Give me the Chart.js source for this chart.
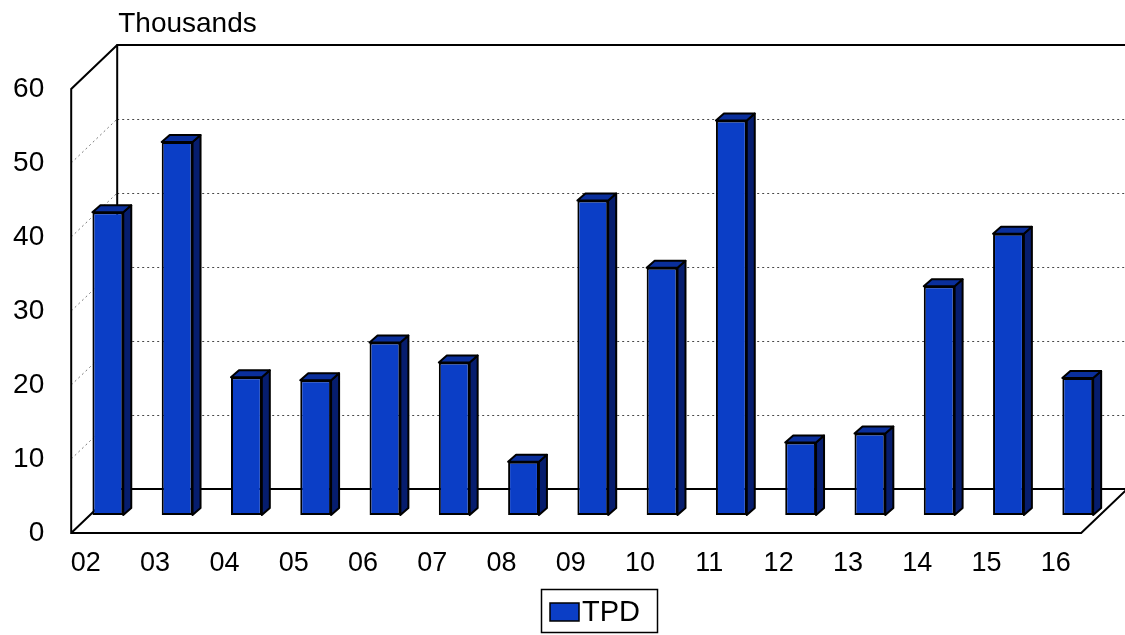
<!DOCTYPE html>
<html>
<head>
<meta charset="utf-8">
<script src="https://cdn.jsdelivr.net/npm/chart.js@4.4.1/dist/chart.umd.min.js"></script>
<style>
  html, body { margin: 0; padding: 0; background: #ffffff; }
  #wrap { width: 1125px; height: 635px; position: relative; }
</style>
</head>
<body>
<div id="wrap"><canvas id="chart" width="1125" height="635"></canvas></div>
<script>
// Annual TPD figures (thousands), years 2002-2016
const years = ['02', '03', '04', '05', '06', '07', '08', '09', '10', '11', '12', '13', '14', '15', '16'];
const tpd = [40.9, 50.4, 18.6, 18.2, 23.3, 20.6, 7.2, 42.5, 33.4, 53.3, 9.8, 11.0, 30.9, 38.0, 18.5];
const yTicks = [0, 10, 20, 30, 40, 50, 60];
const seriesName = 'TPD';
const unitLabel = 'Thousands';

const FRONT_FACE = '#0b3ec6';
const SIDE_FACE = '#061d6e';
const TOP_FACE = '#0a2f9c';
const FONT = '"Liberation Sans", Arial, sans-serif';

// Oblique projection of the plot box: bars stand at a plane between the
// front edge of the floor and the back wall.
const DEPTH_TO_FRONT = { dx: -19, dy: 18 };   // bar plane -> front plane
const DEPTH_TO_BACK = { dx: 27, dy: -26 };    // bar plane -> back wall
const BAR_DEPTH = { dx: 8, dy: -7 };          // thickness of each column
const FLOOR_LEFT_INSET = 2;                   // front-left corner vs. chart area
const FLOOR_LENGTH = 1010;

const boxPlugin = {
  id: 'box3d',
  beforeDatasetsDraw(chart) {
    const ctx = chart.ctx;
    const ys = chart.scales.y;
    const ca = chart.chartArea;
    const top = yTicks[yTicks.length - 1];
    const fx = ca.left - FLOOR_LEFT_INSET;
    const bx = fx + (DEPTH_TO_BACK.dx - DEPTH_TO_FRONT.dx);
    const fy = v => ys.getPixelForValue(v) + DEPTH_TO_FRONT.dy;
    const by = v => ys.getPixelForValue(v) + DEPTH_TO_BACK.dy;

    ctx.save();
    // dotted gridlines on the back wall and the left wall
    ctx.lineWidth = 1;
    ctx.setLineDash([2, 3]);
    yTicks.forEach(v => {
      if (v === 0 || v === top) return;
      ctx.strokeStyle = '#4a4a4a';
      ctx.beginPath();
      ctx.moveTo(bx, by(v) + 0.5);
      ctx.lineTo(bx + FLOOR_LENGTH, by(v) + 0.5);
      ctx.stroke();
      ctx.strokeStyle = '#7a7a7a';
      ctx.beginPath();
      ctx.moveTo(fx, fy(v));
      ctx.lineTo(bx, by(v));
      ctx.stroke();
    });
    ctx.setLineDash([]);

    // solid frame: back wall, left wall edge, floor
    ctx.strokeStyle = '#000000';
    ctx.lineWidth = 2;
    ctx.lineJoin = 'miter';
    ctx.beginPath();
    // back wall top + left edge
    ctx.moveTo(bx + FLOOR_LENGTH, by(top));
    ctx.lineTo(bx, by(top));
    ctx.lineTo(bx, by(0));
    ctx.lineTo(bx + FLOOR_LENGTH, by(0));
    // left wall top and front axis
    ctx.moveTo(bx, by(top));
    ctx.lineTo(fx, fy(top));
    ctx.lineTo(fx, fy(0));
    // floor
    ctx.lineTo(fx + FLOOR_LENGTH, fy(0));
    ctx.lineTo(bx + FLOOR_LENGTH, by(0));
    ctx.moveTo(fx, fy(0));
    ctx.lineTo(bx, by(0));
    ctx.stroke();

    // unit caption above the axis
    ctx.fillStyle = '#000000';
    ctx.font = '28px ' + FONT;
    ctx.textAlign = 'left';
    ctx.textBaseline = 'alphabetic';
    ctx.fillText(unitLabel, bx + 1, 32);
    ctx.restore();
  },
  afterDatasetsDraw(chart) {
    const ctx = chart.ctx;
    const meta = chart.getDatasetMeta(0);
    const { dx, dy } = BAR_DEPTH;
    ctx.save();
    ctx.lineWidth = 2;
    ctx.strokeStyle = '#000000';
    ctx.lineJoin = 'round';
    meta.data.forEach(bar => {
      const p = bar.getProps(['x', 'y', 'base', 'width'], true);
      const l = p.x - p.width / 2, r = p.x + p.width / 2;
      const t = p.y, b = p.base;
      // side face
      ctx.fillStyle = SIDE_FACE;
      ctx.beginPath();
      ctx.moveTo(r, t);
      ctx.lineTo(r + dx, t + dy);
      ctx.lineTo(r + dx, b + dy);
      ctx.lineTo(r, b);
      ctx.closePath();
      ctx.fill();
      ctx.stroke();
      // top face
      ctx.fillStyle = TOP_FACE;
      ctx.beginPath();
      ctx.moveTo(l, t);
      ctx.lineTo(l + dx, t + dy);
      ctx.lineTo(r + dx, t + dy);
      ctx.lineTo(r, t);
      ctx.closePath();
      ctx.fill();
      ctx.stroke();
    });
    ctx.restore();
  },
  afterDraw(chart) {
    // framed legend below the axis labels
    const ctx = chart.ctx;
    const ds = chart.data.datasets[0];
    const boxX = 541.5, boxY = 589.5, boxW = 116, boxH = 43;
    ctx.save();
    ctx.fillStyle = '#ffffff';
    ctx.fillRect(boxX, boxY, boxW, boxH);
    ctx.strokeStyle = '#000000';
    ctx.lineWidth = 1.5;
    ctx.strokeRect(boxX, boxY, boxW, boxH);
    ctx.fillStyle = ds.backgroundColor;
    ctx.fillRect(550, 603, 29, 18);
    ctx.lineWidth = 1.5;
    ctx.strokeRect(550, 603, 29, 18);
    ctx.fillStyle = '#000000';
    ctx.font = '29px ' + FONT;
    ctx.textAlign = 'left';
    ctx.textBaseline = 'middle';
    ctx.fillText(ds.label, 582, 613);
    ctx.restore();
  }
};

new Chart(document.getElementById('chart'), {
  type: 'bar',
  data: {
    labels: years,
    datasets: [{
      label: seriesName,
      data: tpd,
      backgroundColor: FRONT_FACE,
      borderColor: '#000000',
      borderWidth: 2,
      borderSkipped: false,
      barPercentage: 0.445,
      categoryPercentage: 1.0
    }]
  },
  options: {
    responsive: false,
    animation: false,
    events: [],
    layout: { padding: { left: 0, right: 7.2, top: 71, bottom: 0 } },
    plugins: {
      legend: { display: false },
      tooltip: { enabled: false },
      title: { display: false }
    },
    scales: {
      x: {
        offset: true,
        grid: { display: false, drawTicks: false },
        border: { display: false },
        afterFit: axis => { axis.height = 120; },
        ticks: {
          autoSkip: false,
          maxRotation: 0,
          labelOffset: -22,
          padding: 32,
          color: '#000000',
          font: { family: FONT, size: 27 }
        }
      },
      y: {
        min: 0,
        max: 60,
        grid: { display: false, drawTicks: false },
        border: { display: false },
        afterFit: axis => { axis.width = 73.2; },
        afterBuildTicks: axis => { axis.ticks = yTicks.map(v => ({ value: v })); },
        ticks: {
          labelOffset: 18,
          padding: 29,
          color: '#000000',
          font: { family: FONT, size: 28 }
        }
      }
    }
  },
  plugins: [boxPlugin]
});
</script>
</body>
</html>
